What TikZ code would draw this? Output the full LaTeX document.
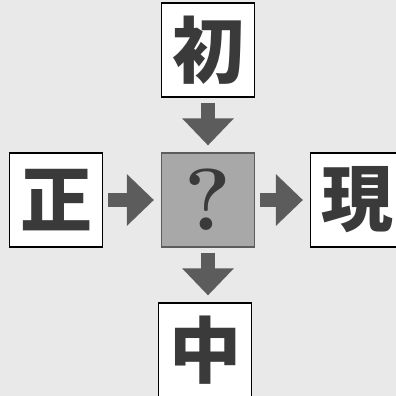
\documentclass[tikz,border=0pt]{standalone}
\usepackage{fontspec}
\newfontfamily\cjk{Noto Sans CJK JP}
\usetikzlibrary{arrows.meta}

\definecolor{fundo}{HTML}{E9E9E9}
\definecolor{cinza}{HTML}{A8A8A8}
\definecolor{escuro}{HTML}{3A3A3A}
\definecolor{corseta}{HTML}{5C5C5C}

\begin{document}
\begin{tikzpicture}[
    x=1pt, y=-1pt,
    % Caixa branca de cada ideograma
    caixa/.style={draw=black, line width=1.2pt, fill=white, inner sep=0pt,
        minimum width=93pt, minimum height=94pt, text=escuro,
        font=\cjk\bfseries\fontsize{72}{72}\selectfont},
    % Caixa central com a interrogação
    centro/.style={caixa, fill=cinza, draw=corseta,
        font=\bfseries\fontsize{88}{88}\selectfont},
    % Setas grossas cinzentas
    seta/.style={draw=corseta, line width=14pt,
        -{Triangle[width=50pt, length=27pt]},
        shorten <=5pt, shorten >=7pt}
]

    % ==========================================
    % 1. FUNDO
    % ==========================================
    \fill[fundo] (0,0) rectangle (396,396);
    \useasboundingbox (0,0) rectangle (396,396);

    % ==========================================
    % 2. CAIXAS
    % ==========================================
    \node[centro] (q)     at (208,200) {?};
    \node[caixa]  (chu)   at (208,50)  {初};  % em cima
    \node[caixa]  (zheng) at (56,200)  {正};  % esquerda
    \node[caixa]  (xian)  at (357,200) {現};  % direita
    \node[caixa]  (zhong) at (205,350) {中};  % em baixo

    % ==========================================
    % 3. SETAS
    % ==========================================
    \draw[seta] (chu) -- (q);
    \draw[seta] (zheng) -- (q);
    \draw[seta] (q) -- (xian);
    \draw[seta] (q) -- (q |- zhong.north);

\end{tikzpicture}
\end{document}
